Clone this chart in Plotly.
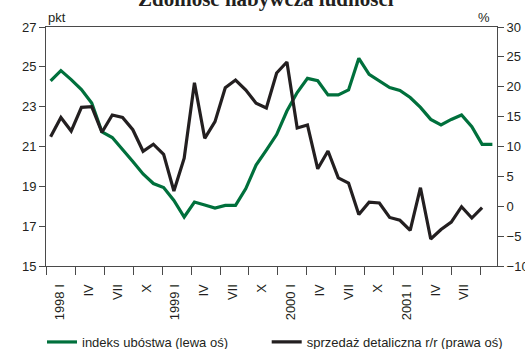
import plotly.graph_objects as go

# Monthly observations, January 1998 onwards
poverty_index = [24.29, 24.81, 24.36, 23.86, 23.18, 21.73, 21.45, 20.87, 20.25, 19.62,
                 19.14, 18.94, 18.29, 17.46, 18.21, 18.06, 17.91, 18.04, 18.04, 18.89,
                 20.07, 20.82, 21.60, 22.78, 23.71, 24.42, 24.30, 23.59, 23.59, 23.84,
                 25.43, 24.62, 24.29, 23.96, 23.81, 23.46, 22.96, 22.36, 22.08, 22.36,
                 22.58, 22.00, 21.11, 21.11]
retail_sales_yoy = [11.64, 14.85, 12.59, 16.56, 16.66, 12.38, 15.27, 14.85, 12.81, 9.20,
                    10.38, 8.69, 2.55, 8.03, 20.68, 11.37, 14.15, 19.84, 21.13, 19.46,
                    17.23, 16.44, 22.30, 24.14, 13.10, 13.60, 6.27, 9.25, 4.76, 3.89,
                    -1.38, 0.68, 0.54, -1.88, -2.35, -4.03, 3.10, -5.48, -3.89, -2.64,
                    -0.08, -1.97, -0.24]

# Quarter markers along the time axis
quarter_ticks = [0, 3, 6, 9, 12, 15, 18, 21, 24, 27, 30, 33, 36, 39, 42, 45]
quarter_labels = ["1998 I", "IV", "VII", "X", "1999 I", "IV", "VII", "X",
                  "2000 I", "IV", "VII", "X", "2001 I", "IV", "VII", ""]

GREEN = "#00703c"
DARK = "#231f20"
AXIS = "#4a4a4a"
FONT = "Liberation Sans, Arial, sans-serif"

fig = go.Figure()
fig.add_trace(go.Scatter(
    x=list(range(len(poverty_index))), y=poverty_index,
    mode="lines", name="indeks ubóstwa (lewa oś)", legend="legend",
    line=dict(color=GREEN, width=3.2), xaxis="x", yaxis="y"))
fig.add_trace(go.Scatter(
    x=list(range(len(retail_sales_yoy))), y=retail_sales_yoy,
    mode="lines", name="sprzedaż detaliczna r/r (prawa oś)", legend="legend2",
    line=dict(color=DARK, width=3.2), xaxis="x", yaxis="y2"))
# Invisible trace that activates the quarter axis
fig.add_trace(go.Scatter(x=[0], y=[None], xaxis="x2", yaxis="y",
                         showlegend=False, hoverinfo="skip"))

legend_style = dict(orientation="h", xref="container", xanchor="left",
                    y=-0.318, yanchor="middle", font=dict(size=13),
                    bgcolor="rgba(0,0,0,0)")

fig.update_layout(
    width=525, height=349,
    margin=dict(l=46, r=28, t=27, b=83, autoexpand=False),
    paper_bgcolor="white", plot_bgcolor="white",
    font=dict(family=FONT, size=13, color=DARK),
    showlegend=True,
    legend=dict(x=0.08, **legend_style),
    legend2=dict(x=0.508, **legend_style),
    xaxis=dict(range=[-0.45, 43.45], showgrid=False, zeroline=False,
               showticklabels=False, ticks="", showline=True, mirror=True,
               linecolor=AXIS, linewidth=1),
    xaxis2=dict(overlaying="x", range=[-0.07, 46.75], side="bottom",
                tickmode="array", tickvals=quarter_ticks, ticktext=quarter_labels,
                ticks="outside", ticklen=8, tickcolor=AXIS, tickwidth=1,
                tickangle=-90, ticklabelshift=13, ticklabelstandoff=4,
                showgrid=False, zeroline=False, showline=False,
                tickfont=dict(size=13, color=DARK)),
    yaxis=dict(range=[15, 27], tickmode="linear", tick0=15, dtick=2,
               ticks="outside", ticklen=6, tickcolor=AXIS, showgrid=False,
               zeroline=False, showline=True, linecolor=AXIS, linewidth=1,
               tickfont=dict(size=13, color=DARK)),
    yaxis2=dict(range=[-10, 30], tickmode="linear", tick0=-10, dtick=5,
                overlaying="y", side="right",
                ticks="outside", ticklen=6, tickcolor=AXIS, showgrid=False,
                zeroline=False, showline=True, linecolor=AXIS, linewidth=1,
                tickfont=dict(size=13, color=DARK)),
)

fig.add_annotation(text="<b>Zdolność nabywcza ludności</b>", xref="paper", yref="paper",
                   x=0.488, y=1.058, xanchor="center", yanchor="bottom", showarrow=False,
                   font=dict(family="Liberation Serif, Times New Roman, serif", size=21,
                             color=DARK))
fig.add_annotation(text="pkt", xref="paper", yref="paper", x=0.0, y=1.0,
                   xanchor="left", yanchor="bottom", showarrow=False,
                   font=dict(size=13, color=DARK))
fig.add_annotation(text="%", xref="paper", yref="paper", x=0.99, y=1.0,
                   xanchor="right", yanchor="bottom", showarrow=False,
                   font=dict(size=13, color=DARK))

fig.write_html("out.html")
